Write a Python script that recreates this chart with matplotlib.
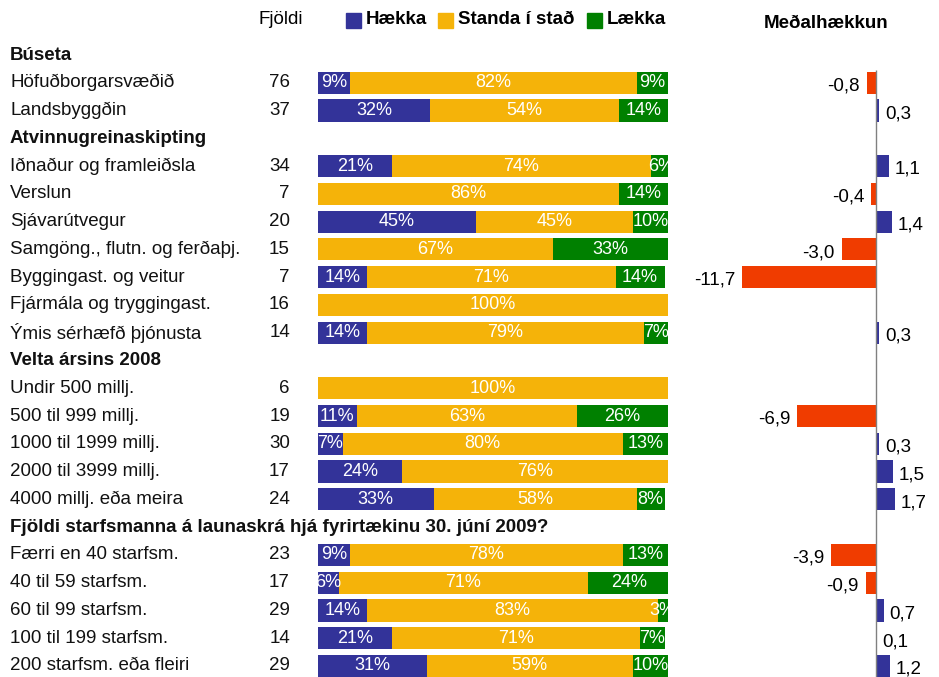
import matplotlib.pyplot as plt
from matplotlib.patches import Rectangle
from matplotlib.transforms import blended_transform_factory

plt.rcParams['font.family'] = ['Liberation Sans', 'DejaVu Sans']

# one entry per row; header rows have no count / shares
row_labels = [
    "Búseta",
    "Höfuðborgarsvæðið", "Landsbyggðin",
    "Atvinnugreinaskipting",
    "Iðnaður og framleiðsla", "Verslun", "Sjávarútvegur",
    "Samgöng., flutn. og ferðaþj.", "Byggingast. og veitur",
    "Fjármála og tryggingast.", "Ýmis sérhæfð þjónusta",
    "Velta ársins 2008",
    "Undir 500 millj.", "500 til 999 millj.", "1000 til 1999 millj.",
    "2000 til 3999 millj.", "4000 millj. eða meira",
    "Fjöldi starfsmanna á launaskrá hjá fyrirtækinu 30. júní 2009?",
    "Færri en 40 starfsm.", "40 til 59 starfsm.", "60 til 99 starfsm.",
    "100 til 199 starfsm.", "200 starfsm. eða fleiri",
]
is_header = [True, False, False, True, False, False, False, False, False, False, False,
             True, False, False, False, False, False, True, False, False, False, False, False]
counts = [None, 76, 37, None, 34, 7, 20, 15, 7, 16, 14,
          None, 6, 19, 30, 17, 24, None, 23, 17, 29, 14, 29]
up = [0, 9, 32, 0, 21, 0, 45, 0, 14, 0, 14,
      0, 0, 11, 7, 24, 33, 0, 9, 6, 14, 21, 31]
same = [0, 82, 54, 0, 74, 86, 45, 67, 71, 100, 79,
        0, 100, 63, 80, 76, 58, 0, 78, 71, 83, 71, 59]
down = [0, 9, 14, 0, 6, 14, 10, 33, 14, 0, 7,
        0, 0, 26, 13, 0, 8, 0, 13, 24, 3, 7, 10]
avg_change = [None, -0.8, 0.3, None, 1.1, -0.4, 1.4, -3.0, -11.7, None, 0.3,
              None, None, -6.9, 0.3, 1.5, 1.7, None, -3.9, -0.9, 0.7, 0.1, 1.2]

legend_names = ["Hækka", "Standa í stað", "Lækka"]
blue = '#333399'
yellow = '#F5B309'
green = '#008000'
red = '#F03C00'

W, H = 939, 677
pitch = 27.77
first = 55
fs = 13.5

fig = plt.figure(figsize=(W / 100, H / 100), dpi=100)
ylims = ((H - first) / pitch, -first / pitch)

# stacked percentage bars
ax = fig.add_axes([318 / W, 0, 350 / W, 1])
ax.set_xlim(0, 100)
ax.set_ylim(*ylims)
ax.axis('off')

rows = range(len(row_labels))
for i in rows:
    if is_header[i]:
        continue
    left = 0
    for val, col in zip([up[i], same[i], down[i]], [blue, yellow, green]):
        if val > 0:
            ax.barh(i, val, left=left, height=0.8, color=col, linewidth=0)
            ax.text(left + val / 2, i, f"{val}%", color='white', ha='center',
                    va='center', fontsize=13)
        left += val

# row labels and counts
tr = blended_transform_factory(fig.transFigure, ax.transData)
for i in rows:
    ax.text(10 / W, i, row_labels[i], transform=tr, ha='left', va='center',
            fontsize=fs, fontweight='bold' if is_header[i] else 'normal', color='#111111')
    if counts[i] is not None:
        ax.text(290 / W, i, str(counts[i]), transform=tr, ha='right', va='center',
                fontsize=fs, color='#111111')

# header line
hy = (20 - first) / pitch
ax.text(303 / W, hy, "Fjöldi", transform=tr, ha='right', va='center', fontsize=fs)
for x0, name, col in zip([346, 438, 587], legend_names, [blue, yellow, green]):
    fig.patches.append(Rectangle((x0 / W, 1 - 28 / H), 15 / W, 15 / H,
                                 transform=fig.transFigure, color=col))
    ax.text((x0 + 20) / W, hy, name, transform=tr, ha='left', va='center',
            fontsize=fs, fontweight='bold')

# average change panel
ax2 = fig.add_axes([700 / W, 0, 239 / W, 1])
ax2.set_xlim(-176 / 11.45, 63 / 11.45)
ax2.set_ylim(*ylims)
ax2.axis('off')
ax2.vlines(0, 0.55, ylims[0], color='#808080', linewidth=1)
for i in rows:
    v = avg_change[i]
    if v is None:
        continue
    ax2.barh(i, v, height=0.8, color=red if v < 0 else blue, linewidth=0)
    ax2.annotate(f"{v:.1f}".replace('.', ','), (v, i + 0.12),
                 xytext=(-5 if v < 0 else 4, 0), textcoords='offset points',
                 ha='right' if v < 0 else 'left', va='center', fontsize=fs)
ax2.text((826 - 700) / 239, 1 - 24 / H, "Meðalhækkun",
         transform=ax2.transAxes, ha='center', va='center', fontsize=fs,
         fontweight='bold')

fig.savefig('out.png', dpi=100)
